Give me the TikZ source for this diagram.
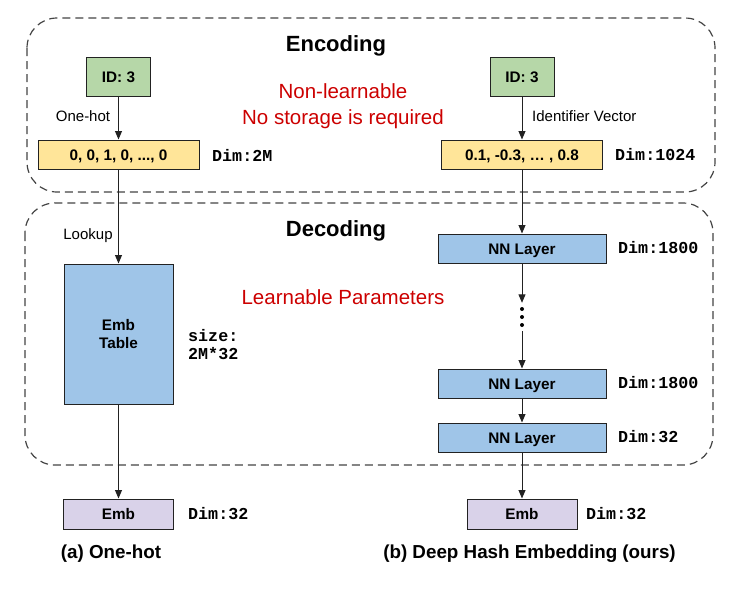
\documentclass[tikz,border=0pt]{standalone}
\usepackage{fontspec}
\setmainfont{Liberation Sans}
\setmonofont{Liberation Mono}
\usetikzlibrary{arrows.meta}
\definecolor{cgreen}{HTML}{B6D7A8}
\definecolor{cyellow}{HTML}{FFE599}
\definecolor{cblue}{HTML}{9FC5E8}
\definecolor{cpurple}{HTML}{D9D2E9}
\definecolor{cred}{HTML}{CC0000}
\definecolor{cdash}{HTML}{444444}
\definecolor{cline}{HTML}{222222}
\tikzset{
  box/.style={draw=cline, line width=1pt, inner sep=0pt, font=\fontsize{15.3}{18}\selectfont\bfseries, text height=11pt, text depth=0pt},
  idbox/.style={box, fill=cgreen, minimum width=64pt, minimum height=39pt},
  vecbox/.style={box, fill=cyellow, minimum width=161pt, minimum height=29pt},
  nnbox/.style={box, fill=cblue, minimum width=168pt, minimum height=29pt},
  embbox/.style={box, fill=cpurple, minimum width=110pt, minimum height=30pt},
  tablebox/.style={draw=cline, line width=1pt, inner sep=0pt, font=\fontsize{15.3}{18.5}\selectfont\bfseries, align=center, fill=cblue, minimum width=109pt, minimum height=140pt},
  dimlabel/.style={anchor=west, inner sep=0pt, font=\fontsize{16.7}{18.5}\selectfont\ttfamily\bfseries, align=left},
  edgelabel/.style={inner sep=0pt, font=\fontsize{15}{17}\selectfont},
  title/.style={inner sep=0pt, font=\fontsize{22}{24}\selectfont\bfseries},
  redtext/.style={inner sep=0pt, text=cred, font=\fontsize{20.5}{26}\selectfont, align=center},
  caption/.style={inner sep=0pt, font=\fontsize{18.8}{22}\selectfont\bfseries},
  region/.style={draw=cdash, line width=1.2pt, dash pattern=on 8pt off 5pt, rounded corners=30pt},
  conn/.style={draw=cline, line width=1pt, -{Triangle[length=8.5pt, width=7pt]}},
}
\begin{document}
\begin{tikzpicture}[x=1pt, y=-1pt]
\useasboundingbox (0,0) rectangle (748,590);
% regions
\draw[region] (27,18) rectangle (715,192);
\draw[region] (25,203) rectangle (713,465);
\node[title] (enc) at (336,46) {Encoding};
\node[title] (dec) at (336,231) {Decoding};
\node[redtext] (nonlearn) at (343,106) {Non-learnable\\No storage is required};
\node[redtext] (learn) at (343,297) {Learnable Parameters};
% left column
\node[idbox] (id1) at (118.5,76.5) {ID: 3};
\node[vecbox] (v1) at (118.5,154.5) {0, 0, 1, 0, ..., 0};
\node[tablebox] (tab) at (118.5,334) {Emb\\Table};
\node[embbox] (e1) at (118.5,514) {Emb};
\node[dimlabel] (d1) at (212,155) {Dim:2M};
\node[dimlabel] (d2) at (188,344.5) {size:\\2M*32};
\node[dimlabel] (d3) at (188,514) {Dim:32};
\node[edgelabel] (l1) at (83,116) {One-hot};
\node[edgelabel] (l2) at (88,236) {Lookup};
\draw[conn] (id1) -- (v1);
\draw[conn] (v1) -- (tab);
\draw[conn] (tab) -- (e1);
% right column
\node[idbox] (id2) at (522,76.5) {ID: 3};
\node[vecbox] (v2) at (522,154.5) {0.1, -0.3, … , 0.8};
\node[nnbox] (nn1) at (522,248.5) {NN Layer};
\node[inner sep=0pt, minimum width=6pt, minimum height=28pt] (dots) at (522,317) {};
\fill[black] (522,309) circle (2pt) (522,317) circle (2pt) (522,325) circle (2pt);
\node[nnbox] (nn2) at (522,383.5) {NN Layer};
\node[nnbox] (nn3) at (522,437.5) {NN Layer};
\node[embbox] (e2) at (522,514) {Emb};
\node[edgelabel, anchor=west] (l3) at (532,116) {Identifier Vector};
\node[dimlabel] (d4) at (615,155) {Dim:1024};
\node[dimlabel] (d5) at (618,248) {Dim:1800};
\node[dimlabel] (d6) at (618,383) {Dim:1800};
\node[dimlabel] (d7) at (618,437) {Dim:32};
\node[dimlabel] (d8) at (586,514) {Dim:32};
\draw[conn] (id2) -- (v2);
\draw[conn] (v2) -- (nn1);
\draw[conn] (nn1) -- (dots.north);
\draw[conn] (dots.south) -- (nn2);
\draw[conn] (nn2) -- (nn3);
\draw[conn] (nn3) -- (e2);
% captions
\node[caption] (c1) at (111,554) {(a) One-hot};
\node[caption] (c2) at (529.5,554) {(b) Deep Hash Embedding (ours)};
\end{tikzpicture}
\end{document}
